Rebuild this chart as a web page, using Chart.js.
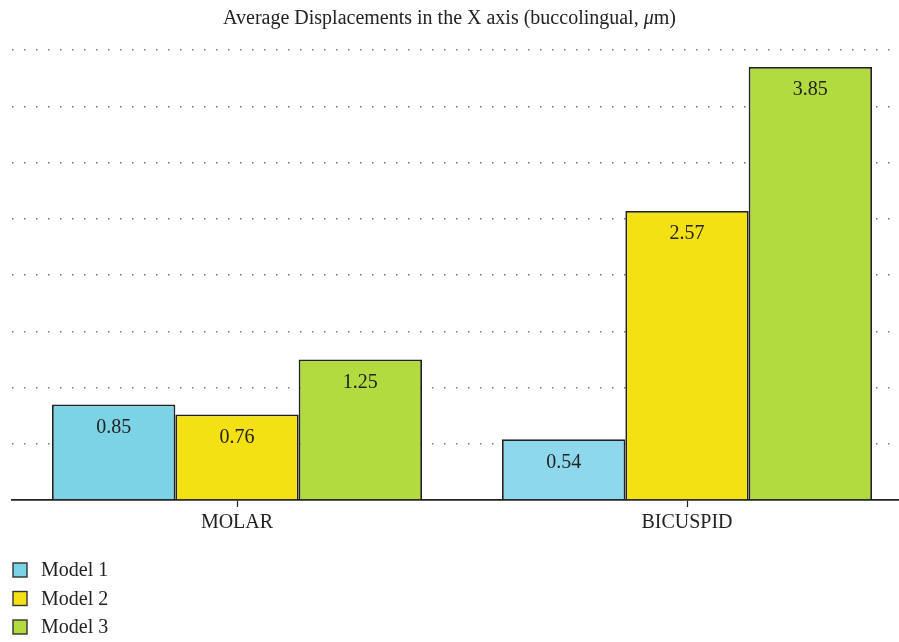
<!DOCTYPE html>
<html>
<head>
<meta charset="utf-8">
<script src="https://cdn.jsdelivr.net/npm/chart.js@4.4.1/dist/chart.umd.min.js"></script>
<style>
  html, body { margin: 0; padding: 0; background: #fff; overflow: hidden; }
  #wrap { width: 899px; height: 642px; }
</style>
</head>
<body>
<div id="wrap"><canvas id="dispChart" width="899" height="642"></canvas></div>
<script>
const categories = ['MOLAR', 'BICUSPID'];
const seriesNames = ['Model 1', 'Model 2', 'Model 3'];
const model1 = [0.85, 0.54];
const model2 = [0.76, 2.57];
const model3 = [1.25, 3.85];
const yMin = 0;
const yMax = 4;
const yStep = 0.5;

const serif = "'Liberation Serif', 'DejaVu Serif', serif";
const fillColors = [['#7bd3e5', '#8ed8ed'], '#f4e114', '#b2db3f'];
const legendColors = ['#7bd3e5', '#f4e114', '#b2db3f'];

// title with italic mu, drawn by hand
const titlePlugin = {
    id: 'titleText',
    afterDraw(chart) {
        const ctx = chart.ctx;
        const parts = [
            ['Average Displacements in the X axis (buccolingual, ', 'normal'],
            ['\u03bc', 'italic'],
            ['m)', 'normal']
        ];
        ctx.save();
        ctx.fillStyle = '#222';
        ctx.textBaseline = 'middle';
        ctx.textAlign = 'left';
        let total = 0;
        parts.forEach(p => { ctx.font = p[1] + ' 20px ' + serif; total += ctx.measureText(p[0]).width; });
        let x = chart.width / 2 - total / 2;
        parts.forEach(p => {
            ctx.font = p[1] + ' 20px ' + serif;
            ctx.fillText(p[0], x, 19);
            x += ctx.measureText(p[0]).width;
        });
        ctx.restore();
    }
};

const valueLabels = {
    id: 'valueLabels',
    afterDatasetsDraw(chart) {
        const ctx = chart.ctx;
        ctx.save();
        ctx.font = '20px ' + serif;
        ctx.fillStyle = '#222';
        ctx.textAlign = 'center';
        ctx.textBaseline = 'middle';
        chart.data.datasets.forEach((ds, di) => {
            chart.getDatasetMeta(di).data.forEach((bar, i) => {
                ctx.fillText(ds.data[i].y.toFixed(2), bar.x, bar.y + 23);
            });
        });
        ctx.restore();
    }
};

const bottomLegend = {
    id: 'bottomLegend',
    afterDraw(chart) {
        const ctx = chart.ctx;
        ctx.save();
        ctx.font = '20px ' + serif;
        ctx.textBaseline = 'middle';
        ctx.textAlign = 'left';
        chart.data.datasets.forEach((ds, i) => {
            const y = 570 + i * 28.5;
            ctx.fillStyle = legendColors[i];
            ctx.fillRect(13, y - 7, 14, 14);
            ctx.strokeStyle = '#333';
            ctx.lineWidth = 1.4;
            ctx.strokeRect(13, y - 7, 14, 14);
            ctx.fillStyle = '#222';
            ctx.fillText(ds.label, 41, y + 1);
        });
        ctx.restore();
    }
};

const ctx = document.getElementById('dispChart').getContext('2d');
new Chart(ctx, {
    type: 'bar',
    data: {
        datasets: [model1, model2, model3].map((vals, i) => ({
            label: seriesNames[i],
            data: vals.map((v, j) => ({ x: j, y: v })),
            backgroundColor: fillColors[i],
            borderColor: '#222',
            borderWidth: 1.8,
            categoryPercentage: 370 / 450,
            barPercentage: 1
        }))
    },
    options: {
        responsive: false,
        animation: false,
        layout: { padding: { top: 50, left: 12, right: 0, bottom: 103 } },
        plugins: {
            legend: { display: false },
            title: { display: false },
            tooltip: { enabled: false }
        },
        scales: {
            x: {
                type: 'linear',
                offset: false,
                min: -0.5,
                max: -0.5 + 887 / 450,
                afterBuildTicks: axis => { axis.ticks = categories.map((c, i) => ({ value: i })); },
                ticks: {
                    callback: v => categories[v],
                    color: '#222',
                    font: { family: serif, size: 20 },
                    padding: 4,
                    maxRotation: 0
                },
                grid: {
                    offset: false,
                    drawOnChartArea: false,
                    drawTicks: true,
                    tickLength: 7,
                    tickColor: '#222',
                    tickWidth: 1.2
                },
                border: { display: true, color: '#222', width: 1.8 }
            },
            y: {
                min: yMin,
                max: yMax,
                ticks: { display: false, stepSize: yStep },
                grid: {
                    drawTicks: false,
                    color: c => c.tick && c.tick.value === 0 ? 'rgba(0,0,0,0)' : '#777',
                    lineWidth: 1.5
                },
                border: { display: false, dash: [1.5, 10.5] }
            }
        }
    },
    plugins: [titlePlugin, valueLabels, bottomLegend]
});
</script>
</body>
</html>
